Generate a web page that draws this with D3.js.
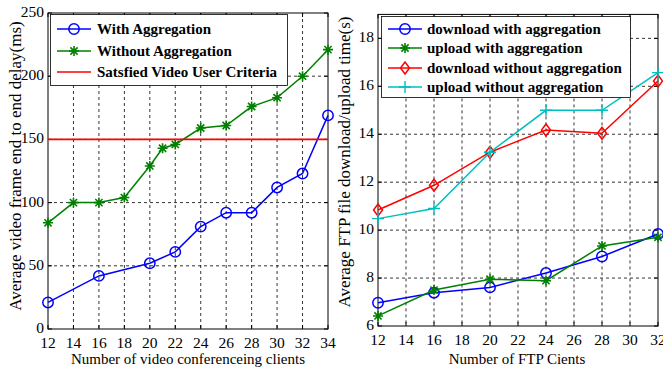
<!DOCTYPE html>
<html><head><meta charset="utf-8">
<script src="https://cdn.jsdelivr.net/npm/d3@7"></script>
<style>
body{margin:0;background:#fff;}
svg{display:block;}
text{font-family:"Liberation Serif","Times New Roman","DejaVu Serif",serif;}
</style></head>
<body><svg id="c" width="663" height="369" font-family="Liberation Serif, serif"></svg>
<script>
// ---- Left chart data ----
const leftXTicks = [12,14,16,18,20,22,24,26,28,30,32,34];
const leftYTicks = [0,50,100,150,200,250];
const withAggX = [12,16,20,22,24,26,28,30,32,34];
const withAggY = [21,42,52,61,81,92,92,112,123,169];
const withoutAggX = [12,14,16,18,20,21,22,24,26,28,30,32,34];
const withoutAggY = [84,100,100,104,129,143,146,159,161,176,183,200,221];
const criteria = 150;
const leftLegend = ["With Aggregation","Without Aggregation","Satsfied Video User Criteria"];

// ---- Right chart data ----
const rightXTicks = [12,14,16,18,20,22,24,26,28,30,32];
const rightYTicks = [6,8,10,12,14,16,18];
const ftpX = [12,16,20,24,28,32];
const downWith = [6.97,7.39,7.61,8.21,8.9,9.84];
const upWith = [6.42,7.5,7.95,7.89,9.34,9.7];
const downWithout = [10.84,11.87,13.25,14.18,14.04,16.22];
const upWithout = [10.48,10.9,13.25,15.0,15.0,16.57];
const rightLegend = ["download with aggregation","upload with aggregation","download without aggregation","upload without aggregation"];

const svg = d3.select("#c");
const BLUE="#0000ff", GREEN="#008000", RED="#ff0000", CYAN="#00bfbf";

function marker(g, type, x, y, color){
  if(type==="circle"){
    g.append("circle").attr("cx",x).attr("cy",y).attr("r",5.2).attr("fill","none").attr("stroke",color).attr("stroke-width",1.5);
  } else if(type==="star"){
    const r=5, d=r*0.72;
    const p=`M${x-r},${y}L${x+r},${y}M${x},${y-r}L${x},${y+r}M${x-d},${y-d}L${x+d},${y+d}M${x-d},${y+d}L${x+d},${y-d}`;
    g.append("path").attr("d",p).attr("stroke",color).attr("stroke-width",1.6).attr("fill","none");
  } else if(type==="diamond"){
    const r=6;
    g.append("path").attr("d",`M${x},${y-r}L${x+r*0.75},${y}L${x},${y+r}L${x-r*0.75},${y}Z`).attr("fill","none").attr("stroke",color).attr("stroke-width",1.5);
  } else if(type==="plus"){
    const r=6;
    g.append("path").attr("d",`M${x-r},${y}L${x+r},${y}M${x},${y-r}L${x},${y+r}`).attr("stroke",color).attr("stroke-width",1.4).attr("fill","none");
  }
}

function frame(x, y, xt, yt, xr, yr){
  const g = svg.append("g");
  const [x0,x1]=xr, [y1,y0]=yr;
  xt.forEach(t=>{ if(x(t)>x0+1 && x(t)<x1-1) g.append("line").attr("x1",x(t)).attr("x2",x(t)).attr("y1",y0).attr("y2",y1).attr("stroke","#000").attr("stroke-width",0.8).attr("stroke-dasharray","3,3"); });
  yt.forEach(t=>{ if(y(t)>y0+1 && y(t)<y1-1) g.append("line").attr("x1",x0).attr("x2",x1).attr("y1",y(t)).attr("y2",y(t)).attr("stroke","#000").attr("stroke-width",0.8).attr("stroke-dasharray","3,3"); });
  xt.forEach(t=>{
    g.append("line").attr("x1",x(t)).attr("x2",x(t)).attr("y1",y1).attr("y2",y1-4).attr("stroke","#000");
    g.append("line").attr("x1",x(t)).attr("x2",x(t)).attr("y1",y0).attr("y2",y0+4).attr("stroke","#000");
    g.append("text").attr("x",x(t)).attr("y",y1+19).attr("text-anchor","middle").attr("font-size",15.5).text(t);
  });
  yt.forEach(t=>{
    g.append("line").attr("x1",x0).attr("x2",x0+4).attr("y1",y(t)).attr("y2",y(t)).attr("stroke","#000");
    g.append("line").attr("x1",x1).attr("x2",x1-4).attr("y1",y(t)).attr("y2",y(t)).attr("stroke","#000");
    g.append("text").attr("x",x0-4).attr("y",y(t)+4).attr("text-anchor","end").attr("font-size",15.5).text(t);
  });
  g.append("rect").attr("x",x0).attr("y",y0).attr("width",x1-x0).attr("height",y1-y0).attr("fill","none").attr("stroke","#000").attr("stroke-width",1);
  return g;
}

function series(g, x, y, xs, ys, color, type){
  const line = d3.line().x((d,i)=>x(xs[i])).y(d=>y(d));
  g.append("path").datum(ys).attr("d",line).attr("fill","none").attr("stroke",color).attr("stroke-width",1.5);
  ys.forEach((v,i)=>marker(g,type,x(xs[i]),y(v),color));
}

// ===== Left chart =====
const lx = d3.scaleLinear().domain([12,34]).range([48,328]);
const ly = d3.scaleLinear().domain([0,250]).range([329,13]);
frame(lx, ly, leftXTicks, leftYTicks, [48,328], [329,13]);
const lData = svg.append("g");
series(lData, lx, ly, withAggX, withAggY, BLUE, "circle");
series(lData, lx, ly, withoutAggX, withoutAggY, GREEN, "star");
lData.append("line").attr("x1",lx(12)).attr("x2",lx(34)).attr("y1",ly(criteria)).attr("y2",ly(criteria)).attr("stroke",RED).attr("stroke-width",1.6);

const ll = svg.append("g");
ll.append("rect").attr("x",50.5).attr("y",14.5).attr("width",237).attr("height",71).attr("fill","#fff").attr("stroke","#000").attr("stroke-width",0.8);
const lTypes=["circle","star",null], lCols=[BLUE,GREEN,RED], lYs=[29,51,72];
leftLegend.forEach((t,i)=>{
  ll.append("line").attr("x1",57).attr("x2",91).attr("y1",lYs[i]).attr("y2",lYs[i]).attr("stroke",lCols[i]).attr("stroke-width",1.6);
  if(lTypes[i]) marker(ll,lTypes[i],74,lYs[i],lCols[i]);
  ll.append("text").attr("x",97).attr("y",lYs[i]+5).attr("font-size",15).attr("font-weight","bold").text(t);
});

svg.append("text").attr("transform","translate(21,166) rotate(-90)").attr("text-anchor","middle").attr("font-size",17).text("Average video frame end to end delay(ms)");
svg.append("text").attr("x",188).attr("y",364).attr("text-anchor","middle").attr("font-size",15).text("Number of video conferenceing clients");

// ===== Right chart =====
const rx = d3.scaleLinear().domain([12,32]).range([378,658]);
const ry = d3.scaleLinear().domain([6,19]).range([326,14.4]);
frame(rx, ry, rightXTicks, rightYTicks, [378,658], [326,14.4]);
const rData = svg.append("g");
series(rData, rx, ry, ftpX, downWith, BLUE, "circle");
series(rData, rx, ry, ftpX, upWith, GREEN, "star");
series(rData, rx, ry, ftpX, downWithout, RED, "diamond");
series(rData, rx, ry, ftpX, upWithout, CYAN, "plus");

const rl = svg.append("g");
rl.append("rect").attr("x",381.5).attr("y",16.5).attr("width",249).attr("height",81).attr("fill","#fff").attr("stroke","#000").attr("stroke-width",0.8);
const rTypes=["circle","star","diamond","plus"], rCols=[BLUE,GREEN,RED,CYAN], rYs=[29,48,68,87];
rightLegend.forEach((t,i)=>{
  rl.append("line").attr("x1",388).attr("x2",422).attr("y1",rYs[i]).attr("y2",rYs[i]).attr("stroke",rCols[i]).attr("stroke-width",1.6);
  marker(rl,rTypes[i],405,rYs[i],rCols[i]);
  rl.append("text").attr("x",427).attr("y",rYs[i]+5).attr("font-size",15).attr("font-weight","bold").text(t);
});

svg.append("text").attr("transform","translate(350,162) rotate(-90)").attr("text-anchor","middle").attr("font-size",17).text("Average FTP file download/upload time(s)");
svg.append("text").attr("x",517).attr("y",364).attr("text-anchor","middle").attr("font-size",15).text("Number of FTP Cients");
</script></body></html>
